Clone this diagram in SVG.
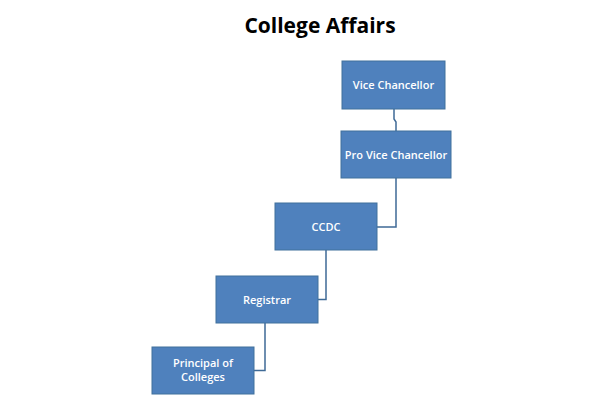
<svg xmlns="http://www.w3.org/2000/svg" width="600" height="408" viewBox="0 0 600 408">
  <style>
    .box { fill: #4f81bd; stroke: #41719c; stroke-width: 1; }
    .lbl { fill: #ffffff; font-family: "Open Sans", "Liberation Sans", sans-serif; font-size: 11px; font-weight: 600; text-anchor: middle; }
    .conn { fill: none; stroke: #3f6a96; stroke-width: 1.5; }
    .title { fill: #000000; font-family: "Open Sans", "Liberation Sans", sans-serif; font-size: 21px; font-weight: 700; text-anchor: middle; }
  </style>
  <rect width="600" height="408" fill="#ffffff"/>
  <text class="title" x="320" y="32.5">College Affairs</text>
  <g id="connectors">
    <path class="conn" d="M394,109 V119 L396,122 V131"/>
    <path class="conn" d="M396,178 V227 H377"/>
    <path class="conn" d="M326,250 V299.5 H318"/>
    <path class="conn" d="M265,323 V370.5 H254"/>
  </g>
  <g id="vice-chancellor">
    <rect class="box" x="342" y="61" width="103" height="48"/>
    <text class="lbl" x="393.5" y="89">Vice Chancellor</text>
  </g>
  <g id="pro-vice-chancellor">
    <rect class="box" x="341" y="131" width="110" height="47"/>
    <text class="lbl" x="396" y="158.5">Pro Vice Chancellor</text>
  </g>
  <g id="ccdc">
    <rect class="box" x="275" y="203" width="102" height="47"/>
    <text class="lbl" x="326" y="230.5">CCDC</text>
  </g>
  <g id="registrar">
    <rect class="box" x="216" y="276" width="102" height="47"/>
    <text class="lbl" x="267" y="303.5">Registrar</text>
  </g>
  <g id="principal">
    <rect class="box" x="152" y="347" width="102" height="47"/>
    <text class="lbl" x="203" y="367">Principal of</text>
    <text class="lbl" x="203" y="381">Colleges</text>
  </g>
</svg>
